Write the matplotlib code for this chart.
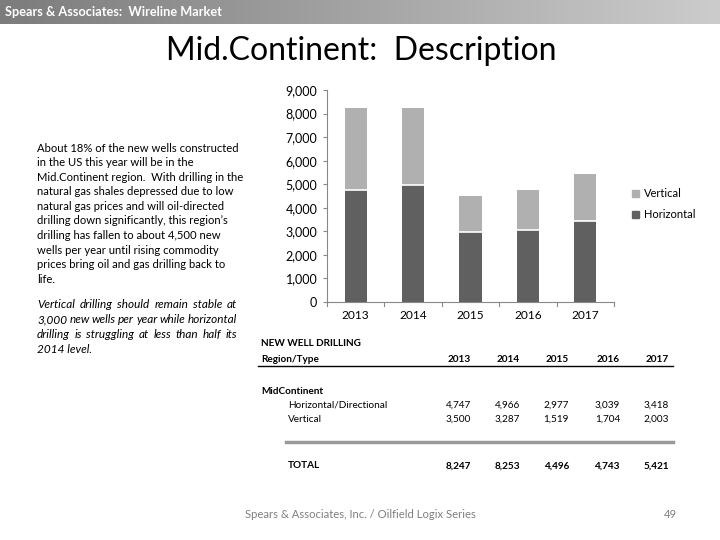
import matplotlib
matplotlib.use("Agg")
import matplotlib.pyplot as plt
import numpy as np
from matplotlib.patches import Patch
from matplotlib.lines import Line2D
from matplotlib.colors import LinearSegmentedColormap

years = ["2013", "2014", "2015", "2016", "2017"]
horizontal = [4747, 4966, 2977, 3039, 3418]
vertical = [3500, 3287, 1519, 1704, 2003]
totals = ["8,247", "8,253", "4,496", "4,743", "5,421"]
horiz_labels = ["4,747", "4,966", "2,977", "3,039", "3,418"]
vert_labels = ["3,500", "3,287", "1,519", "1,704", "2,003"]
yticks = [0, 1000, 2000, 3000, 4000, 5000, 6000, 7000, 8000, 9000]

FONT = ["Lato", "DejaVu Sans"]
plt.rcParams['font.family'] = FONT

W, H = 720, 540
fig = plt.figure(figsize=(7.2, 5.4), dpi=100)
fig.patch.set_facecolor("white")
renderer = fig.canvas.get_renderer()

def fx(x):
    return x / W

def fy(y):
    return 1 - y / H

# Header gradient bar
hax = fig.add_axes([0, fy(24), 1, 24 / H])
grad = np.linspace(0, 1, 256).reshape(1, -1)
cmap = LinearSegmentedColormap.from_list("g", ["#7c7c7c", "#a4a4a4", "#cccccc"])
hax.imshow(grad, aspect="auto", cmap=cmap, extent=[0, 1, 0, 1])
hax.set_axis_off()
fig.text(fx(5), fy(12), "Spears & Associates:  Wireline Market", color="white",
         fontsize=9.2, fontweight="bold", va="center", ha="left")

# Title
fig.text(fx(361), fy(51), "Mid.Continent:  Description", fontsize=23, ha="center", va="center",
         color="black")

# Left paragraph
para1 = ["About 18% of the new wells constructed",
         "in the US this year will be in the",
         "Mid.Continent region.  With drilling in the",
         "natural gas shales depressed due to low",
         "natural gas prices and will oil-directed",
         "drilling down significantly, this region\u2019s",
         "drilling has fallen to about 4,500 new",
         "wells per year until rising commodity",
         "prices bring oil and gas drilling back to",
         "life."]
for i, line in enumerate(para1):
    fig.text(fx(37), fy(148 + i * 14.6), line, fontsize=8.1, ha="left", va="center")

para2 = ["Vertical drilling should remain stable at",
         "3,000 new wells per year while horizontal",
         "drilling is struggling at less than half its",
         "2014 level."]

def justified(line, x0, x1, y, **kw):
    words = line.split()
    arts = [fig.text(0, fy(y), w, ha="left", va="center", **kw) for w in words]
    widths = [a.get_window_extent(renderer).width for a in arts]
    gap = (x1 - x0 - sum(widths)) / max(len(words) - 1, 1)
    pos = x0
    for a, wd in zip(arts, widths):
        a.set_x(fx(pos))
        pos += wd + gap

for i, line in enumerate(para2):
    y = 305 + i * 14.8
    if i < len(para2) - 1:
        justified(line, 37, 237, y, fontsize=8.5, style="italic")
    else:
        fig.text(fx(37), fy(y), line, fontsize=8.5, ha="left", va="center", style="italic")

# Chart
ax = fig.add_axes([fx(327), fy(302), (614 - 327) / W, (302 - 90) / H])
x = np.arange(len(years))
bw = 0.39
ax.bar(x, horizontal, bw, color="#606060", edgecolor="none", label="Horizontal", zorder=2)
ax.bar(x, vertical, bw, bottom=horizontal, color="#b0b0b0", edgecolor="none", label="Vertical", zorder=2)
for xi, h in zip(x, horizontal):
    ax.plot([xi - bw / 2, xi + bw / 2], [h, h], color="white", lw=1.2, zorder=3)
ax.set_xlim(-0.5, len(years) - 0.5)
ax.set_ylim(0, 9000)
ax.set_yticks(yticks)
ax.set_yticklabels([f"{v:,}" for v in yticks], fontsize=9)
ax.set_xticks(x)
ax.set_xticklabels(years, fontsize=8.6)
ax.tick_params(axis="x", length=0, pad=6)
ax.tick_params(axis="y", length=3, color="#888888", pad=4)
for xb in np.arange(-0.5, len(years), 1.0):
    ax.plot([xb, xb], [0, -150], color="#888888", lw=0.8, clip_on=False)
for s in ["top", "right"]:
    ax.spines[s].set_visible(False)
ax.spines["left"].set_color("#888888")
ax.spines["bottom"].set_color("#888888")
ax.spines["left"].set_linewidth(0.8)
ax.spines["bottom"].set_linewidth(0.8)

handles = [Patch(color="#b0b0b0", label="Vertical"), Patch(color="#606060", label="Horizontal")]
fig.legend(handles=handles, loc="center left", bbox_to_anchor=(fx(622), fy(204)),
           frameon=False, fontsize=8, handlelength=0.6, handleheight=0.6,
           handletextpad=0.5, labelspacing=0.9)

# Table
tfs = 7.2
fig.text(fx(261), fy(344), "NEW WELL DRILLING", fontsize=tfs, fontweight="bold", ha="left", va="center")
fig.text(fx(261), fy(359), "Region/Type", fontsize=tfs, fontweight="bold", ha="left", va="center")
col_x = [471, 520, 569, 620, 669]
for cx, yr in zip(col_x, years):
    fig.text(fx(cx), fy(359), yr, fontsize=tfs, fontweight="bold", ha="right", va="center")
fig.add_artist(Line2D([fx(258), fx(673)], [fy(366), fy(366)], color="black", lw=1.0))
fig.text(fx(261), fy(391), "MidContinent", fontsize=tfs, fontweight="bold", ha="left", va="center")
fig.text(fx(288), fy(405), "Horizontal/Directional", fontsize=tfs, ha="left", va="center")
fig.text(fx(288), fy(419), "Vertical", fontsize=tfs, ha="left", va="center")
for cx, hv, vv, tv in zip(col_x, horiz_labels, vert_labels, totals):
    fig.text(fx(cx), fy(405), hv, fontsize=tfs, ha="right", va="center")
    fig.text(fx(cx), fy(419), vv, fontsize=tfs, ha="right", va="center")
    fig.text(fx(cx), fy(466), tv, fontsize=tfs, fontweight="bold", ha="right", va="center")
fig.add_artist(Line2D([fx(286), fx(673)], [fy(442), fy(442)], color="#999999", lw=2.5))
fig.text(fx(288), fy(466), "TOTAL", fontsize=tfs, fontweight="bold", ha="left", va="center")

# Footer
fig.text(fx(360), fy(515), "Spears & Associates, Inc. / Oilfield Logix Series", fontsize=8.1,
         color="#7f7f7f", ha="center", va="center")
fig.text(fx(670), fy(515), "49", fontsize=8.1, color="#7f7f7f", ha="center", va="center")

fig.savefig("out.png", dpi=100, facecolor="white")
